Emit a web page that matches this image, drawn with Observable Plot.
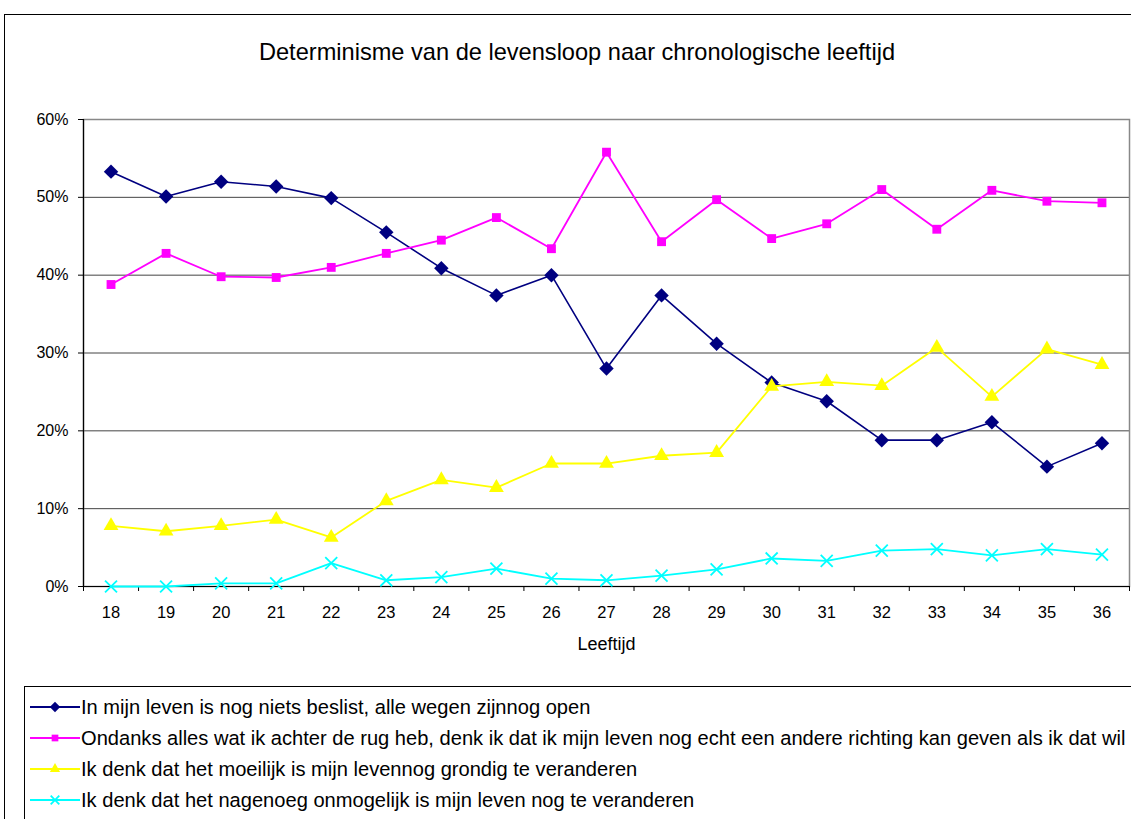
<!DOCTYPE html>
<html>
<head>
<meta charset="utf-8">
<script src="https://cdn.jsdelivr.net/npm/d3@7"></script>
<script src="https://cdn.jsdelivr.net/npm/@observablehq/plot@0.6"></script>
<style>
  html, body { margin: 0; padding: 0; background: #fff; }
  body { width: 1131px; height: 819px; overflow: hidden; position: relative; font-family: "Liberation Sans", Arial, sans-serif; }
  #frame { position: absolute; left: 4px; top: 14px; width: 1200px; height: 900px; border: 1px solid #000; box-sizing: border-box; }
  #title { position: absolute; left: 0; width: 1154px; top: 37px; text-align: center; font-size: 23.6px; color: #000; line-height: 30px; }
  #chart { position: absolute; left: 0; top: 100px; }
  #legend { position: absolute; left: 24px; top: 686px; width: 1130px; height: 140px; border: 1px solid #000; box-sizing: border-box; background: #fff; }
  .item { position: absolute; left: 5px; height: 20px; display: flex; align-items: center; font-size: 20.1px; white-space: nowrap; color: #000; }
  .item svg { margin-right: 1px; }
  #chart svg g[aria-label="x-axis label"] text { font-size: 18px; }
</style>
</head>
<body>
<div id="frame"></div>
<div id="title">Determinisme van de levensloop naar chronologische leeftijd</div>
<div id="chart"></div>
<div id="legend"></div>
<script>
const ages = [18,19,20,21,22,23,24,25,26,27,28,29,30,31,32,33,34,35,36];
const seriesNames = [
  "In mijn leven is nog niets beslist, alle wegen zijnnog open",
  "Ondanks alles wat ik achter de rug heb, denk ik dat ik mijn leven nog echt een andere richting kan geven als ik dat wil",
  "Ik denk dat het moeilijk is mijn levennog grondig te veranderen",
  "Ik denk dat het nagenoeg onmogelijk is mijn leven nog te veranderen"
];
const openValues = [53.3,50.1,52.0,51.4,49.9,45.5,40.9,37.4,40.0,28.0,37.4,31.2,26.2,23.8,18.8,18.8,21.1,15.4,18.4];
const changeValues = [38.8,42.8,39.8,39.7,41.0,42.8,44.5,47.4,43.4,55.8,44.3,49.7,44.7,46.6,51.0,45.9,50.9,49.5,49.3];
const hardValues = [7.8,7.1,7.8,8.6,6.3,11.0,13.7,12.7,15.8,15.8,16.8,17.2,25.7,26.3,25.8,30.7,24.4,30.5,28.5];
const impossibleValues = [0.0,0.0,0.4,0.4,3.0,0.8,1.2,2.3,1.0,0.8,1.4,2.2,3.6,3.3,4.6,4.8,4.0,4.8,4.1];
const yTicks = [0,10,20,30,40,50,60];

const colors = ["#000080", "#FF00FF", "#FFFF00", "#00FFFF"];
const symbols = ["diamond2", "square", "triangle", "times"];
const allValues = [openValues, changeValues, hardValues, impossibleValues];

const data = [];
allValues.forEach((vals, si) => vals.forEach((v, i) => data.push({series: seriesNames[si], si, age: ages[i], value: v})));

const boundaries = d3.range(ages[0] - 0.5, ages[ages.length - 1] + 1, 1);

const marks = [
  Plot.ruleY(yTicks.filter(d => d > 0), {stroke: "#444", strokeWidth: 1}),
  Plot.frame({stroke: "#888", strokeWidth: 1.5}),
  Plot.axisY({ticks: yTicks, tickSize: 5, tickPadding: 10, tickFormat: d => d + "%", fontSize: 16, label: null, stroke: "#000"}),
  Plot.axisX({ticks: boundaries, tickSize: 5, tickFormat: () => "", label: null, stroke: "#000"}),
  Plot.axisX({ticks: ages, tickSize: 0, tickPadding: 20, tickFormat: d => String(d), fontSize: 16.5, label: "Leeftijd", labelAnchor: "center", labelArrow: "none", labelOffset: 63}),
  Plot.ruleX([ages[0] - 0.5], {stroke: "#000", strokeWidth: 1.2}),
  Plot.ruleY([0], {stroke: "#000", strokeWidth: 1.2}),
];
const radii = [6.5, 5, 5.5, 5.5];
seriesNames.forEach((name, si) => {
  const d = data.filter(r => r.si === si);
  marks.push(Plot.line(d, {x: "age", y: "value", stroke: colors[si], strokeWidth: si === 0 ? 1.6 : 1.8}));
  if (si < 3) {
    marks.push(Plot.dot(d, {x: "age", y: "value", symbol: symbols[si], fill: colors[si], stroke: "none", r: radii[si]}));
  } else {
    marks.push(Plot.dot(d, {x: "age", y: "value", symbol: symbols[si], stroke: colors[si], strokeWidth: 1.8, r: radii[si]}));
  }
});

const chart = Plot.plot({
  width: 1131,
  height: 570,
  marginLeft: 83,
  marginRight: 2,
  marginTop: 19,
  marginBottom: 84,
  style: {fontFamily: "'Liberation Sans', Arial, sans-serif", fontSize: "16px", color: "#000", background: "transparent"},
  x: {type: "linear", domain: [ages[0] - 0.5, ages[ages.length - 1] + 0.5]},
  y: {domain: [0, 60]},
  marks
});
document.getElementById("chart").appendChild(chart);

// legend
const legend = document.getElementById("legend");
seriesNames.forEach((name, si) => {
  const item = document.createElement("div");
  item.className = "item";
  item.style.top = (10 + si * 31) + "px";
  const ns = "http://www.w3.org/2000/svg";
  const svg = document.createElementNS(ns, "svg");
  svg.setAttribute("width", 50); svg.setAttribute("height", 20);
  const line = document.createElementNS(ns, "line");
  line.setAttribute("x1", 0); line.setAttribute("x2", 50); line.setAttribute("y1", 10); line.setAttribute("y2", 10);
  line.setAttribute("stroke", colors[si]); line.setAttribute("stroke-width", 1.8);
  svg.appendChild(line);
  const sym = document.createElementNS(ns, "path");
  const symType = [d3.symbolDiamond2, d3.symbolSquare, d3.symbolTriangle, d3.symbolTimes][si];
  sym.setAttribute("d", d3.symbol(symType, si === 0 ? 70 : (si === 3 ? 50 : 45))());
  sym.setAttribute("transform", "translate(25,10)");
  if (si < 3) { sym.setAttribute("fill", colors[si]); }
  else { sym.setAttribute("fill", "none"); sym.setAttribute("stroke", colors[si]); sym.setAttribute("stroke-width", 1.8); }
  svg.appendChild(sym);
  item.appendChild(svg);
  const span = document.createElement("span");
  span.textContent = name;
  item.appendChild(span);
  legend.appendChild(item);
});
</script>
</body>
</html>
